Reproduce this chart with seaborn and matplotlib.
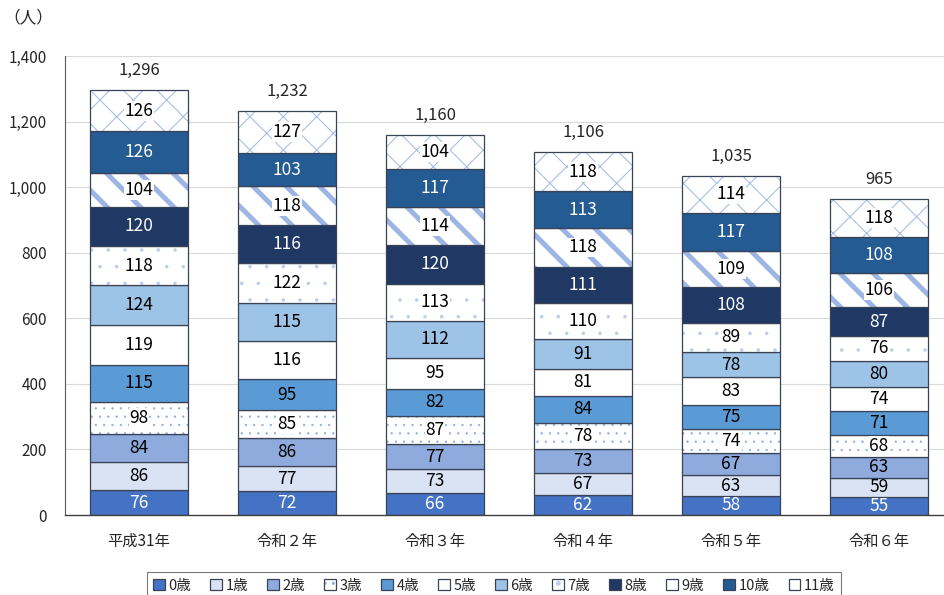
import matplotlib.pyplot as plt
import numpy as np
import pandas as pd
import seaborn as sns

years = ["平成31年", "令和２年", "令和３年", "令和４年", "令和５年", "令和６年"]
ages = ["0歳", "1歳", "2歳", "3歳", "4歳", "5歳", "6歳", "7歳", "8歳", "9歳", "10歳", "11歳"]

age0 = [76, 72, 66, 62, 58, 55]
age1 = [86, 77, 73, 67, 63, 59]
age2 = [84, 86, 77, 73, 67, 63]
age3 = [98, 85, 87, 78, 74, 68]
age4 = [115, 95, 82, 84, 75, 71]
age5 = [119, 116, 95, 81, 83, 74]
age6 = [124, 115, 112, 91, 78, 80]
age7 = [118, 122, 113, 110, 89, 76]
age8 = [120, 116, 120, 111, 108, 87]
age9 = [104, 118, 114, 118, 109, 106]
age10 = [126, 103, 117, 113, 117, 108]
age11 = [126, 127, 104, 118, 114, 118]
totals = [1296, 1232, 1160, 1106, 1035, 965]

series = [age0, age1, age2, age3, age4, age5, age6, age7, age8, age9, age10, age11]

# styles per age
fills = ["#4472C4", "#DAE3F3", "#8FAADC", "white", "#5B9BD5", "white",
         "#9DC3E6", "white", "#1F3864", "white", "#235B92", "white"]
hatches = [None, None, None, "..", None, None, None, ".", None, "\\", None, "x"]
hatch_lw = {"..": 0.4, ".": 0.1, "\\": 3.6, "x": 0.8}
hatch_cols = {"..": "#8FAADC", ".": "#BCCDEB", "\\": "#9DB5E3", "x": "#A9BFE8"}
label_colors = ["white" if i in (0, 8, 10) else "black" for i in range(12)]
edge = "#3A4256"

sns.set_style("white")
plt.rcParams["font.family"] = ["Noto Sans CJK JP", "DejaVu Sans"]

fig = plt.figure(figsize=(9.44, 5.95), dpi=100)
ax = fig.add_axes([65 / 944, 1 - 515 / 595, (944 - 65) / 944, 459 / 595])

bottom = np.zeros(len(years))
handles = []
for i, vals in enumerate(series):
    df = pd.DataFrame({"year": years, "count": vals})
    h = hatches[i]
    n0 = len(ax.patches)
    if h is None:
        sns.barplot(data=df, x="year", y="count", order=years, bottom=bottom,
                    color=fills[i], saturation=1, width=0.66, edgecolor=edge,
                    linewidth=0.9, errorbar=None, ax=ax)
        bars = ax.patches[n0:]
        handles.append(bars[0])
    else:
        sns.barplot(data=df, x="year", y="count", order=years, bottom=bottom,
                    color=fills[i], saturation=1, width=0.66, edgecolor=hatch_cols[h],
                    linewidth=0, hatch=h, errorbar=None, ax=ax)
        bars = ax.patches[n0:]
        for b in bars:
            try:
                b.set_hatch_linewidth(hatch_lw[h])
            except AttributeError:
                pass
        n1 = len(ax.patches)
        sns.barplot(data=df, x="year", y="count", order=years, bottom=bottom,
                    color=fills[i], fill=False, width=0.66, edgecolor=edge,
                    linewidth=0.9, errorbar=None, ax=ax)
        outline = ax.patches[n1:]
        handles.append((bars[0], outline[0]))
    for j, b in enumerate(bars):
        box = None
        if h is not None:
            box = dict(facecolor="white", edgecolor="none", pad=0.6)
        ax.text(b.get_x() + b.get_width() / 2, bottom[j] + vals[j] / 2, str(vals[j]),
                ha="center", va="center", fontsize=12.5, color=label_colors[i], bbox=box)
    bottom = bottom + np.array(vals)

for j, t in enumerate(totals):
    ax.annotate(f"{t:,}", (j, t), xytext=(0, 8), textcoords="offset points",
                ha="center", va="bottom", fontsize=12)

ax.set_xlim(-0.5, -0.5 + 879 / 148)
ax.set_ylim(0, 1400)
ax.set_yticks(range(0, 1401, 200))
ax.set_yticklabels([f"{v:,}" for v in range(0, 1401, 200)], fontsize=11)
ax.tick_params(axis="x", length=0, labelsize=11, pad=13)
ax.tick_params(axis="y", length=5, width=0.8, color="#595959", direction="out", pad=8)
ax.yaxis.grid(True, color="#D9D9D9", linewidth=0.8)
ax.set_axisbelow(True)
ax.set_xlabel("")
ax.set_ylabel("")
for s in ["top", "right"]:
    ax.spines[s].set_visible(False)
ax.spines["left"].set_color("#595959")
ax.spines["left"].set_linewidth(0.8)
ax.spines["bottom"].set_color("#404040")
ax.spines["bottom"].set_linewidth(1.0)

fig.text(28 / 944, 1 - 18 / 595, "（人）", ha="center", va="center", fontsize=12)

leg = fig.legend(handles, ages, loc="upper center", bbox_to_anchor=(494 / 944, 1 - 565 / 595),
                 ncol=12, fontsize=10.5, handlelength=0.8, handleheight=0.8,
                 handletextpad=0.25, columnspacing=1.3, frameon=True, fancybox=False,
                 borderpad=0.45)
leg.get_frame().set_edgecolor("#595959")
leg.get_frame().set_linewidth(0.8)

fig.savefig("out.png", dpi=100)
